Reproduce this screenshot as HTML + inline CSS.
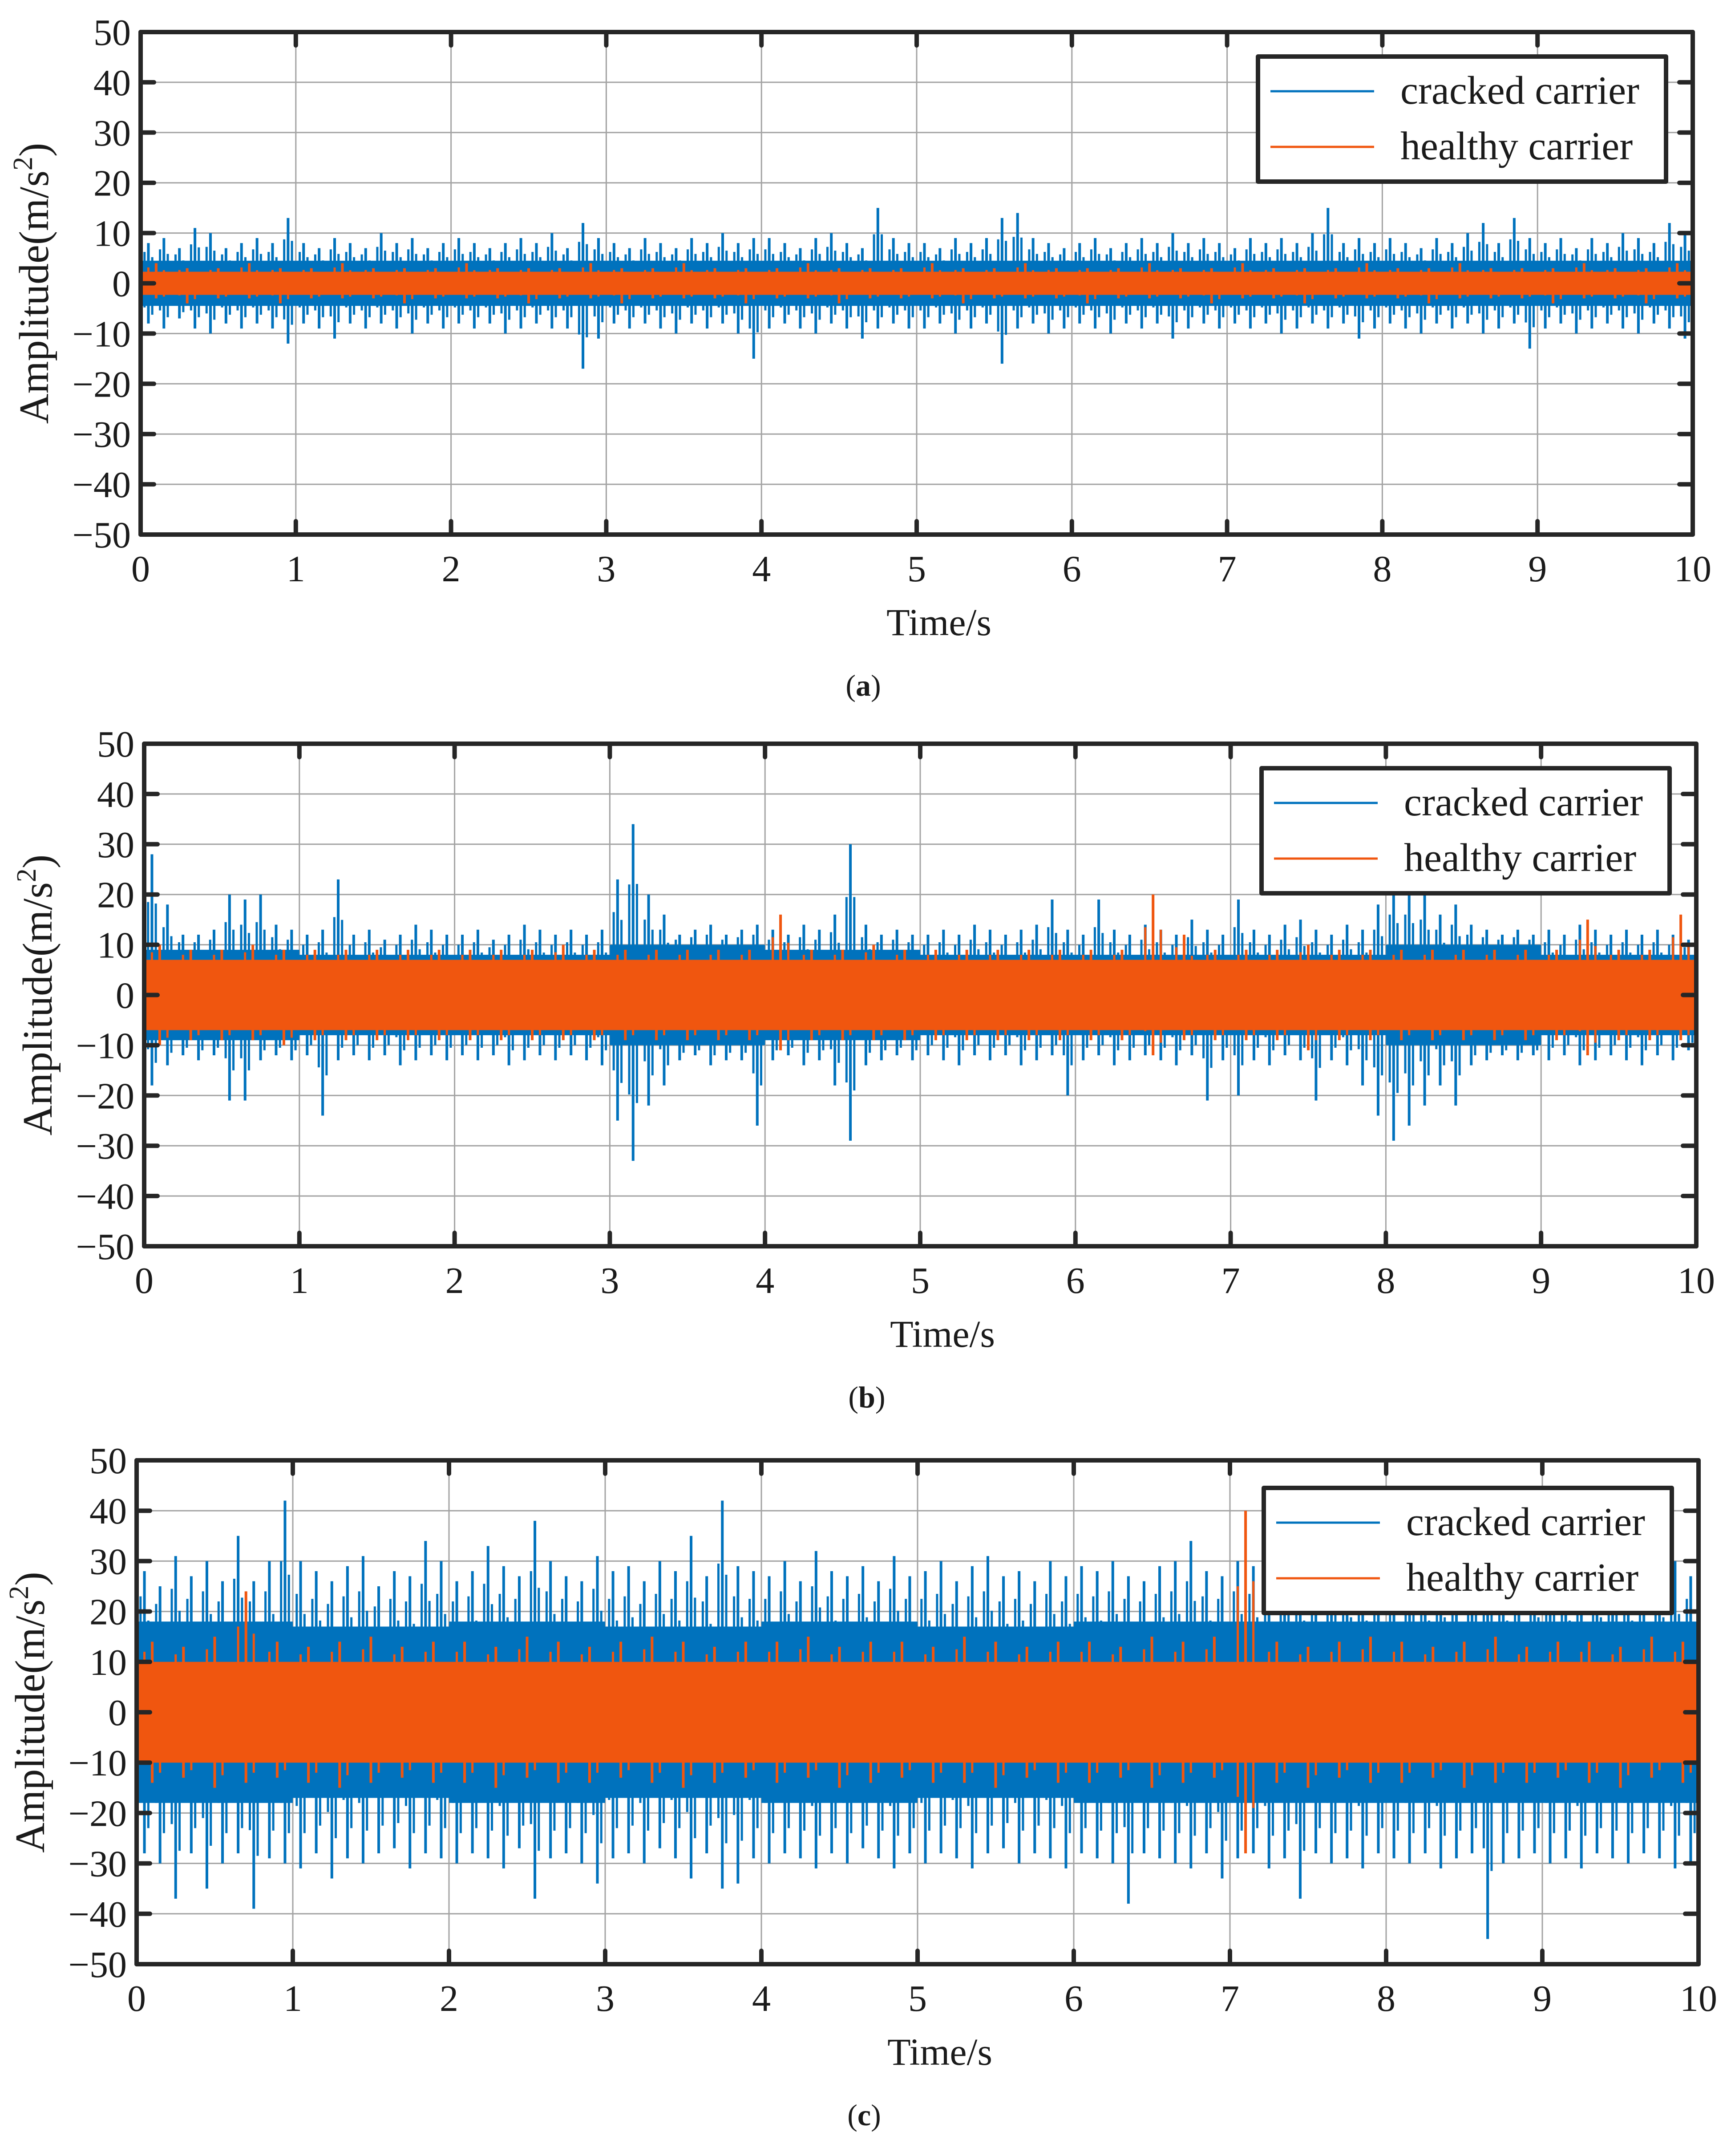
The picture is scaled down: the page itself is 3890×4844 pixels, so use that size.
<!DOCTYPE html>
<html><head><meta charset="utf-8"><style>
html,body{margin:0;padding:0;background:#fff}
svg{display:block}
text{font-family:"Liberation Serif",serif;fill:#1a1a1a}
</style></head>
<body>
<svg id="fig" xmlns="http://www.w3.org/2000/svg" width="3890" height="4844" viewBox="0 0 3890 4844"></svg>
<script>
// ---------- data (bins of 0.1 s for cracked, 0.2 s for healthy; core arrays per 1 s) ----------
const xTicks = [0,1,2,3,4,5,6,7,8,9,10];
const yTicks = [50,40,30,20,10,0,-10,-20,-30,-40,-50];
const seriesNames = ["cracked carrier","healthy carrier"];
const panelLabels = ["a","b","c"];

const aCrHi = [8,9,7,11,10,7,8,9,8,13, 8,7,9,8,7,10,8,9,7,8, 9,8,7,8,9,8,10,7,12,9, 8,7,9,8,7,9,8,10,8,9, 9,8,7,9,10,8,7,15,9,8, 8,7,9,8,9,13,14,9,8,7, 8,9,7,8,9,8,10,8,9,8, 7,9,8,9,8,10,15,8,9,8, 9,8,7,9,8,10,12,8,13,9, 8,9,7,9,8,10,9,8,12,10];
const aCrLo = [-8,-9,-7,-9,-10,-8,-9,-8,-9,-12, -8,-9,-11,-8,-9,-8,-9,-10,-8,-9, -8,-9,-8,-10,-9,-8,-9,-9,-17,-11, -8,-9,-8,-9,-10,-8,-9,-8,-10,-15, -9,-8,-9,-10,-8,-9,-11,-9,-8,-9, -9,-8,-10,-9,-8,-16,-9,-8,-10,-9, -8,-9,-10,-8,-9,-8,-11,-9,-8,-9, -8,-9,-8,-10,-9,-8,-9,-8,-11,-9, -8,-9,-10,-8,-9,-8,-10,-9,-8,-13, -9,-8,-10,-9,-8,-9,-10,-8,-9,-11];
const aCrCore = [4.5,4.5,4.5,4.5,4.5,4.5,4.5,4.5,4.5,4.5];
const aHeHi = [4,3,3,4,3,3,4,3,3,3, 4,3,3,3,4,3,3,4,3,3, 3,4,3,3,3,4,3,3,4,3, 3,3,4,3,3,4,3,3,3,4, 3,3,4,3,3,3,4,3,3,4];
const aHeLo = [-3,-4,-3,-3,-4,-3,-3,-3,-4,-3, -3,-3,-4,-3,-3,-4,-3,-3,-3,-4, -3,-3,-4,-3,-3,-3,-4,-3,-3,-3, -4,-3,-3,-3,-4,-3,-3,-4,-3,-3, -3,-4,-3,-3,-3,-4,-3,-3,-4,-3];
const aHeCore = [2.3,2.3,2.3,2.3,2.3,2.3,2.3,2.3,2.3,2.3];

const bCrHi = [28,18,12,12,13,20,19,20,14,13, 12,13,23,12,13,11,12,14,13,12, 12,13,11,12,14,13,12,13,12,13, 23,34,20,16,12,13,14,12,13,14, 13,12,14,13,16,30,14,12,13,12, 12,13,12,14,13,12,13,14,19,13, 12,19,13,12,14,13,12,15,13,12, 19,13,12,14,15,13,12,14,13,18, 22,22,20,16,18,14,13,12,13,12, 13,12,14,13,12,13,12,13,12,11];
const bCrLo = [-18,-14,-12,-13,-12,-21,-21,-13,-12,-13, -12,-24,-13,-12,-13,-12,-14,-13,-12,-13, -12,-13,-12,-14,-13,-12,-13,-12,-13,-14, -25,-33,-22,-18,-13,-12,-14,-13,-13,-26, -13,-12,-14,-13,-18,-29,-14,-13,-12,-13, -12,-13,-14,-12,-13,-12,-14,-13,-12,-20, -13,-12,-14,-13,-12,-13,-14,-12,-21,-13, -20,-13,-14,-12,-13,-21,-13,-14,-18,-24, -29,-26,-22,-18,-22,-14,-13,-12,-13,-12, -13,-12,-14,-13,-12,-13,-14,-12,-13,-11];
const bCrCore = [9,8,8,10,9,8,8,8,10,8];
const bHeHi = [10,9,9,10,9,9,9,9,9,9, 9,9,9,10,9,9,9,9,9,9, 16,9,9,10,9,9,9,9,9,9, 9,9,20,12,9,9,9,10,9,9, 9,9,9,9,9,9,15,9,9,16];
const bHeLo = [-10,-9,-9,-9,-10,-9,-9,-9,-9,-9, -9,-9,-9,-9,-9,-9,-9,-9,-9,-9, -11,-9,-9,-9,-9,-9,-9,-9,-9,-9, -9,-9,-12,-9,-9,-9,-9,-11,-9,-9, -9,-9,-9,-9,-9,-9,-12,-9,-9,-9];
const bHeCore = [7,7,7,7,7,7,7,7,7,7];

const cCrHi = [28,25,31,27,30,26,35,26,30,42, 30,28,26,29,31,25,28,27,34,30, 26,28,33,29,27,38,30,27,26,31, 28,29,26,30,28,35,27,42,29,28, 27,30,26,32,28,27,29,26,31,27, 28,30,26,29,31,27,28,26,30,27, 29,28,30,27,26,29,30,34,28,27, 30,29,26,31,28,27,30,29,28,27, 26,30,28,29,27,31,30,28,26,29, 30,28,27,29,31,28,26,29,30,27];
const cCrLo = [-28,-30,-37,-28,-35,-30,-28,-39,-29,-30, -31,-28,-33,-29,-30,-28,-27,-31,-28,-29, -30,-28,-29,-31,-27,-37,-29,-28,-30,-34, -29,-28,-30,-27,-29,-33,-28,-35,-34,-29, -30,-28,-29,-31,-28,-30,-27,-29,-31,-28, -30,-28,-29,-31,-28,-27,-30,-28,-29,-31, -28,-29,-30,-38,-28,-29,-30,-31,-28,-33, -29,-28,-31,-29,-37,-28,-30,-29,-31,-28, -29,-30,-28,-31,-29,-28,-45,-30,-29,-28, -30,-29,-31,-28,-29,-30,-28,-29,-31,-30];
const cCrCore = [18,17,18,17,18,17,18,18,18,18];
const cHeHi = [14,13,15,24,14,13,14,15,13,14, 14,13,15,14,13,14,15,14,13,14, 14,15,13,14,14,13,15,14,13,14, 14,13,15,14,15,40,14,13,14,15, 14,13,14,15,13,14,14,13,15,14];
const cHeLo = [-14,-13,-15,-14,-13,-14,-15,-14,-13,-14, -14,-15,-13,-14,-14,-13,-14,-15,-14,-13, -14,-13,-15,-14,-13,-14,-14,-15,-13,-14, -14,-13,-15,-14,-13,-28,-14,-15,-13,-14, -14,-13,-15,-14,-14,-13,-14,-15,-13,-14];
const cHeCore = [10,10,10,10,10,10,10,10,10,10];

const panelData = [
  {crHi:aCrHi,crLo:aCrLo,crCore:aCrCore,heHi:aHeHi,heLo:aHeLo,heCore:aHeCore},
  {crHi:bCrHi,crLo:bCrLo,crCore:bCrCore,heHi:bHeHi,heLo:bHeLo,heCore:bHeCore},
  {crHi:cCrHi,crLo:cCrLo,crCore:cCrCore,heHi:cHeHi,heLo:cHeLo,heCore:cHeCore}
];
// layout (pixels)
const boxes = [
  {l:316,r:3804,t:72,b:1201},
  {l:324,r:3812,t:1671,b:2800},
  {l:307,r:3817,t:3281,b:4413}
];
const BLUE="#0072BD", ORANGE="#F0560F", AX="#262626", GRID="#a3a3a3";
const NS="http://www.w3.org/2000/svg";
const svg=document.getElementById('fig');
function mk(tag,attrs,parent){const e=document.createElementNS(NS,tag);for(const k in attrs)e.setAttribute(k,attrs[k]);(parent||svg).appendChild(e);return e;}

boxes.forEach((B,pi)=>{
  const D=panelData[pi];
  const g=mk('g',{});
  
  
  const X=t=>B.l+(t-0)/(10-0)*(B.r-B.l);
  const Y=v=>B.t+(50-v)/100*(B.b-B.t);
  // grid
  const grid=mk('g',{stroke:GRID,'stroke-width':3},g);
  
  
  xTicks.forEach(t=>mk('line',{x1:X(t),x2:X(t),y1:B.t,y2:B.b},grid));
  yTicks.forEach(v=>mk('line',{x1:B.l,x2:B.r,y1:Y(v),y2:Y(v)},grid));
  // series
  function drawSeries(hi,lo,core,color,name){
    const sg=mk('g',{},g);
    
    
    let up=[],dn=[];
    core.forEach((c,i)=>{const t0=i*10/core.length,t1=(i+1)*10/core.length;
      up.push(X(t0)+','+Y(c),X(t1)+','+Y(c));dn.unshift(X(t1)+','+Y(-c),X(t0)+','+Y(-c));});
    mk('polygon',{points:up.concat(dn).join(' '),fill:color},sg);
    const n=hi.length;
    hi.forEach((h,i)=>{const t=(i+0.5)*10/n;
      mk('line',{x1:X(t),x2:X(t),y1:Y(h),y2:Y(lo[i]),stroke:color,'stroke-width':6},sg);
      const t2=(i+0.25)*10/n, t3=(i+0.75)*10/n;
      mk('line',{x1:X(t2),x2:X(t2),y1:Y((h+core[Math.floor(i*core.length/n)])/2),y2:Y(lo[i]*0.6),stroke:color,'stroke-width':5},sg);
      mk('line',{x1:X(t3),x2:X(t3),y1:Y(h*0.65),y2:Y((lo[i]-core[Math.floor(i*core.length/n)])/2),stroke:color,'stroke-width':5},sg);
    });
  }
  drawSeries(D.crHi,D.crLo,D.crCore,BLUE,'series-cracked-carrier');
  drawSeries(D.heHi,D.heLo,D.heCore,ORANGE,'series-healthy-carrier');
  // axes box and ticks
  const ax=mk('g',{stroke:AX,'stroke-width':10,fill:'none','stroke-linecap':'round'},g);
  
  
  mk('rect',{x:B.l,y:B.t,width:B.r-B.l,height:B.b-B.t,'stroke-linejoin':'round'},ax);
  xTicks.forEach(t=>{mk('line',{x1:X(t),x2:X(t),y1:B.b,y2:B.b-30},ax);mk('line',{x1:X(t),x2:X(t),y1:B.t,y2:B.t+30},ax);});
  yTicks.forEach(v=>{mk('line',{x1:B.l,x2:B.l+30,y1:Y(v),y2:Y(v)},ax);mk('line',{x1:B.r,x2:B.r-30,y1:Y(v),y2:Y(v)},ax);});
  // tick labels
  xTicks.forEach(t=>{const e=mk('text',{x:X(t),y:B.b+105,'text-anchor':'middle','font-size':84},g);e.textContent=t;
    
    });
  yTicks.forEach(v=>{const e=mk('text',{x:B.l-22,y:Y(v)+29,'text-anchor':'end','font-size':84},g);e.textContent=(v<0?'\u2212'+(-v):v);
    
    });
  // axis titles
  const xt=mk('text',{x:(B.l+B.r)/2+50,y:B.b+226,'text-anchor':'middle','font-size':86},g);
  xt.textContent='Time/s';
  
  
  const cy=(B.t+B.b)/2;
  const yt=mk('text',{x:0,y:0,'text-anchor':'middle','font-size':94,transform:`translate(${B.l-208},${cy}) rotate(-90)`},g);
  yt.innerHTML='Amplitude(m/s<tspan dy="-36" font-size="62">2</tspan><tspan dy="36">)</tspan>';
  
  
  // legend
  const LW=917,LH=281,Lr=B.r-60,Lt=B.t+(pi==2?62:55),Ll=Lr-LW;
  const lg=mk('g',{},g);
  
  
  mk('rect',{x:Ll,y:Lt,width:LW,height:LH,fill:'#fff',stroke:AX,'stroke-width':10,'stroke-linejoin':'round'},lg);
  [[BLUE,78,106],[ORANGE,203,231]].forEach((s,k)=>{
    const ln=mk('line',{x1:Ll+28,x2:Ll+261,y1:Lt+s[1],y2:Lt+s[1],stroke:s[0],'stroke-width':5},lg);
    
    
    const tx=mk('text',{x:Ll+320,y:Lt+s[2],'font-size':90},lg);
    tx.textContent=seriesNames[k];
    
    
  });
  // caption
  const cap=mk('text',{x:(B.l+B.r)/2-120,y:B.b+362,'text-anchor':'middle','font-size':68},g);
  cap.innerHTML='(<tspan font-weight="bold">'+panelLabels[pi]+'</tspan>)';
  
  
});
</script>
</body></html>
